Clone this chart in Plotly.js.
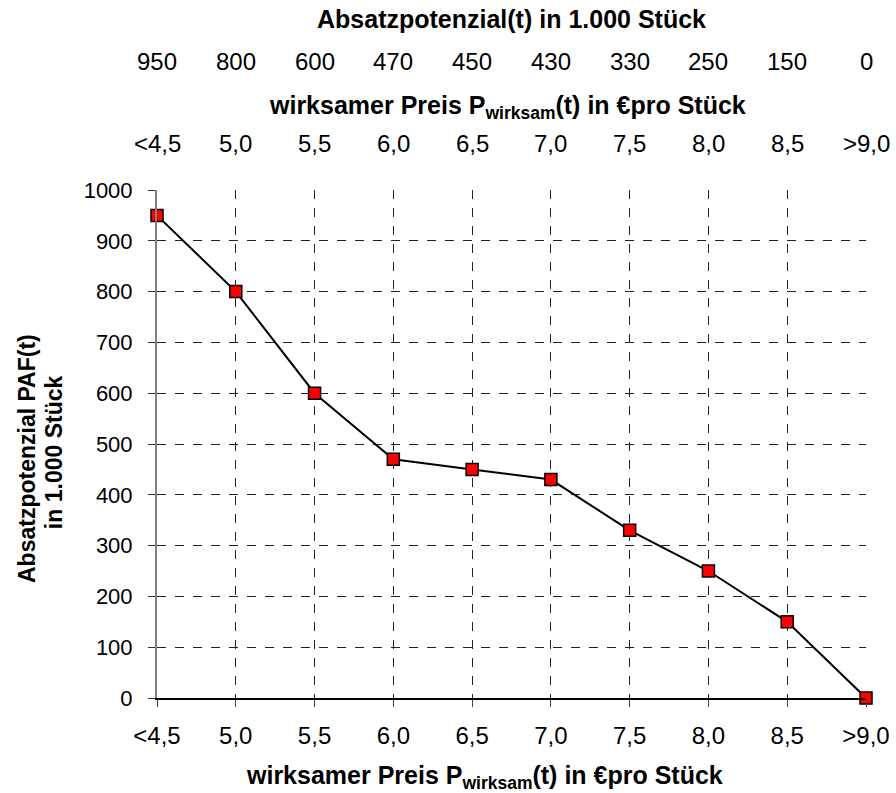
<!DOCTYPE html>
<html>
<head>
<meta charset="utf-8">
<script src="https://cdn.plot.ly/plotly-3.0.1.min.js"></script>
<style>html,body{margin:0;padding:0;background:#fff;}#chart{width:896px;height:793px;}</style>
</head>
<body>
<div id="chart"></div>
<script>
// Data
var priceLabels = ['<4,5','5,0','5,5','6,0','6,5','7,0','7,5','8,0','8,5','>9,0'];
var absatzValues = [950, 800, 600, 470, 450, 430, 330, 250, 150, 0];
var yTicks = [0,100,200,300,400,500,600,700,800,900,1000];

var topTitle1 = 'Absatzpotenzial(t) in 1.000 Stück';
var topTitle2 = 'wirksamer Preis P<sub>wirksam</sub>(t) in €pro Stück';
var xTitle = 'wirksamer Preis P<sub>wirksam</sub>(t) in €pro Stück';
var yTitleLine1 = 'Absatzpotenzial PAF(t)';
var yTitleLine2 = 'in 1.000 Stück';

var FAM = '"Liberation Sans", Arial, Helvetica, sans-serif';
var hdrFont = {family: FAM, size: 24, color: '#000'};
var titleFont = {family: FAM, size: 25, color: '#000'};
var xTickFont = {family: FAM, size: 24, color: '#000'};
var yTickFont = {family: FAM, size: 22, color: '#000'};
var yTitleFont = {family: FAM, size: 23, color: '#000'};

var trace = {
  x: priceLabels,
  y: absatzValues,
  type: 'scatter',
  mode: 'lines+markers',
  line: {color: '#000', width: 2},
  marker: {symbol: 'square', size: 12, color: '#ff0000', line: {color: '#000', width: 1.5}},
  cliponaxis: false,
  hoverinfo: 'x+y'
};

var annotations = [];
annotations.push({xref:'paper', yref:'paper', x:0.5007, y:1.3366, text:'<b>'+topTitle1+'</b>', showarrow:false, xanchor:'center', yanchor:'middle', font: titleFont});
annotations.push({xref:'paper', yref:'paper', x:0.4937, y:1.164, text:'<b>'+topTitle2+'</b>', showarrow:false, xanchor:'center', yanchor:'middle', font: titleFont});
for (var i = 0; i < priceLabels.length; i++) {
  annotations.push({xref:'x', yref:'paper', x:i, y:1.252, text:String(absatzValues[i]), showarrow:false, xanchor:'center', yanchor:'middle', font: hdrFont});
  annotations.push({xref:'x', yref:'paper', x:i, y:1.0925, text:priceLabels[i], showarrow:false, xanchor:'center', yanchor:'middle', font: hdrFont});
}
// bottom x-axis title
annotations.push({xref:'paper', yref:'paper', x:0.4626, y:-0.155, text:'<b>'+xTitle+'</b>', showarrow:false, xanchor:'center', yanchor:'middle', font: titleFont});
// y-axis title (two lines)
annotations.push({xref:'paper', yref:'paper', x:(27-157)/709, y:0.4705, text:'<b>'+yTitleLine1+'</b>', textangle:-90, showarrow:false, xanchor:'center', yanchor:'middle', font: yTitleFont});
annotations.push({xref:'paper', yref:'paper', x:(54-157)/709, y:0.484, text:'<b>'+yTitleLine2+'</b>', textangle:-90, showarrow:false, xanchor:'center', yanchor:'middle', font: yTitleFont});

var layout = {
  width: 896, height: 793,
  margin: {l: 157, r: 30, t: 190, b: 95, pad: 0},
  paper_bgcolor: '#fff', plot_bgcolor: '#fff',
  showlegend: false,
  font: {family: FAM, size: 22, color: '#000'},
  xaxis: {
    type: 'category',
    categoryorder: 'array', categoryarray: priceLabels,
    range: [0, priceLabels.length - 1],
    showgrid: true, gridcolor: '#222', griddash: 'dash', gridwidth: 1,
    showline: true, linecolor: '#000', linewidth: 1.5,
    ticks: 'outside', ticklen: 7, tickcolor: '#444', tickwidth: 1,
    tickfont: xTickFont, ticklabelstandoff: 9,
    zeroline: false
  },
  yaxis: {
    range: [0, 1000],
    tickvals: yTicks,
    showgrid: true, gridcolor: '#222', griddash: 'dash', gridwidth: 1,
    showline: true, linecolor: '#808080', linewidth: 2,
    ticks: 'outside', ticklen: 7, tickcolor: '#333', tickwidth: 1,
    tickfont: yTickFont, ticklabelstandoff: 11,
    zeroline: false
  },
  annotations: annotations
};

Plotly.newPlot('chart', [trace], layout, {displayModeBar: false, staticPlot: true});
</script>
</body>
</html>
